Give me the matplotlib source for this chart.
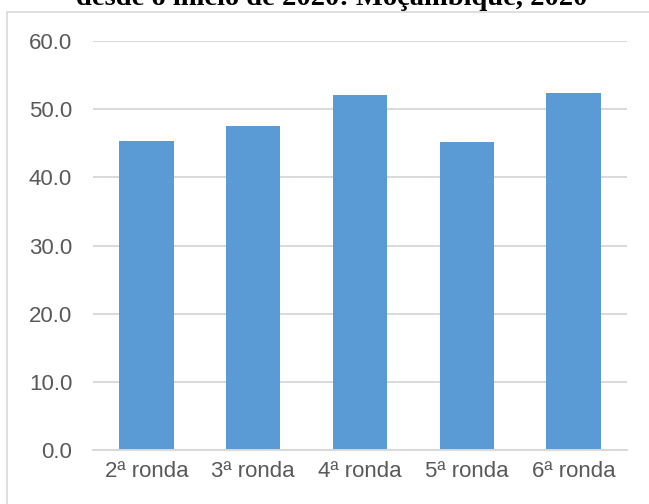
import matplotlib.pyplot as plt
from matplotlib.patches import Rectangle

rondas = ['2ª ronda', '3ª ronda', '4ª ronda', '5ª ronda', '6ª ronda']
valores = [45.3, 47.5, 52.1, 45.2, 52.3]
yticks = [0, 10, 20, 30, 40, 50, 60]
titulo = 'desde o início de 2020: Moçambique, 2020'

plt.rcParams['font.family'] = ['Liberation Sans', 'DejaVu Sans']

fig = plt.figure(figsize=(6.49, 5.04), dpi=100)
ax = fig.add_axes([93/649, 1 - 450/504, 534/649, 409/504])

# chart-area frame, runs off the right and bottom edges
fig.patches.append(Rectangle((7/649, -0.2), 1.2, 1.2 - 12/504,
                             transform=fig.transFigure, fill=False,
                             edgecolor='#d9d9d9', lw=1.2, clip_on=False))

ax.bar(range(len(rondas)), valores, width=0.51, color='#5b9bd5', zorder=3)

ax.set_ylim(0, 60)
ax.set_xlim(-0.5, len(rondas) - 0.5)
ax.set_yticks(yticks)
ax.set_yticklabels([f'{v:.1f}' for v in yticks])
ax.set_xticks(range(len(rondas)))
ax.set_xticklabels(rondas)
ax.tick_params(axis='both', length=0, labelsize=16, labelcolor='#595959')
ax.tick_params(axis='y', pad=15)
ax.tick_params(axis='x', pad=8)

ax.yaxis.grid(True, color='#d9d9d9', lw=1.4, zorder=0)
for s in ['top', 'right', 'left']:
    ax.spines[s].set_visible(False)
ax.spines['bottom'].set_color('#d9d9d9')
ax.spines['bottom'].set_linewidth(1.4)
ax.spines['bottom'].set_zorder(4)

# title is partly cut off at the top in the reference
fig.text(332/649, 1 - 5/504, titulo, ha='center', va='baseline',
         fontsize=20.5, fontweight='bold', family='Liberation Serif')

fig.savefig('out.png', dpi=100)
